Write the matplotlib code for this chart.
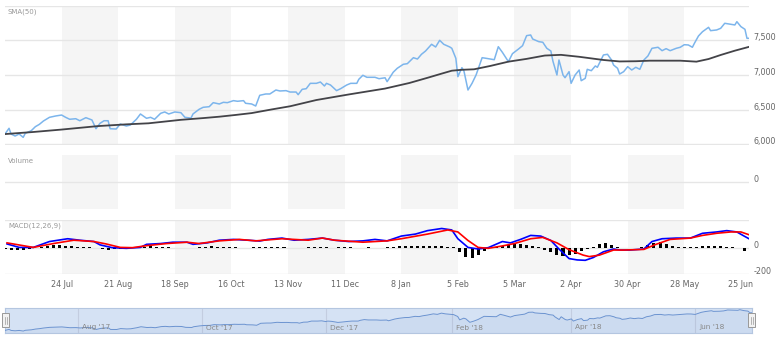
import matplotlib
matplotlib.use('Agg')
import matplotlib.pyplot as plt
import matplotlib.transforms as mtransforms
from matplotlib.patches import Rectangle
import pandas as pd

start = pd.Timestamp('2017-06-26')

# price, day offsets from start
price_days = [0, 2, 3, 5, 7, 9, 10, 13, 15, 17, 19, 22, 25, 28, 30, 32, 35, 37, 40, 43,
              45, 47, 49, 51, 52, 55, 57, 60, 62, 65, 67, 70, 72, 74, 77, 79, 81, 84, 87, 89,
              92, 93, 96, 98, 101, 103, 106, 108, 110, 113, 115, 118, 119, 122, 124, 126, 129, 131, 134, 136,
              139, 141, 144, 145, 147, 149, 151, 154, 156, 158, 159, 161, 164, 166, 169, 171, 174, 175, 177, 179,
              183, 185, 188, 189, 192, 194, 197, 199, 202, 204, 206, 208, 211, 213, 215, 217, 220, 221, 223, 224,
              226, 227, 229, 231, 233, 236, 238, 242, 244, 246, 249, 251, 254, 256, 258, 260, 261, 264, 266, 268,
              270, 271, 273, 274, 276, 277, 279, 280, 282, 284, 285, 287, 288, 290, 292, 293, 296, 298, 300, 301,
              303, 304, 306, 308, 310, 312, 314, 316, 318, 320, 323, 325, 327, 329, 332, 334, 336, 338, 340, 341,
              343, 345, 348, 349, 352, 354, 356, 358, 361, 362, 364, 366, 367, 368]
price = [6151, 6233, 6151, 6122, 6151, 6103, 6160, 6199, 6256, 6290, 6338, 6391, 6410, 6424, 6391, 6363, 6371, 6342, 6386, 6353,
         6227, 6305, 6342, 6342, 6227, 6223, 6295, 6266, 6280, 6363, 6439, 6377, 6391, 6363, 6449, 6468, 6439, 6468, 6458, 6391,
         6380, 6440, 6506, 6535, 6544, 6602, 6583, 6607, 6602, 6631, 6622, 6631, 6593, 6583, 6554, 6708, 6727, 6727, 6784, 6770,
         6775, 6755, 6755, 6717, 6794, 6803, 6880, 6880, 6899, 6842, 6880, 6856, 6775, 6803, 6856, 6880, 6880, 6938, 6996, 6967,
         6967, 6947, 6960, 6904, 7039, 7096, 7154, 7163, 7249, 7230, 7298, 7345, 7442, 7403, 7499, 7442, 7403, 7384, 7240, 6976,
         7105, 7058, 6784, 6880, 7000, 7249, 7240, 7220, 7407, 7327, 7192, 7307, 7374, 7422, 7566, 7576, 7518, 7480, 7471, 7384,
         7345, 7201, 7000, 7216, 7000, 6961, 7048, 6880, 7000, 7072, 6918, 6952, 7082, 7062, 7130, 7111, 7288, 7298, 7216, 7144,
         7096, 7014, 7048, 7120, 7072, 7111, 7082, 7216, 7274, 7384, 7399, 7350, 7379, 7350, 7384, 7399, 7436, 7432, 7399, 7456,
         7561, 7623, 7686, 7638, 7648, 7672, 7744, 7734, 7720, 7767, 7696, 7657, 7528, 7528]

sma_days = [0, 14, 28, 46, 60, 71, 87, 98, 106, 114, 122, 132, 141, 154, 170, 188, 200, 209, 216, 221,
            226, 232, 240, 249, 258, 267, 275, 284, 296, 304, 312, 319, 334, 342, 348, 354, 361, 368]
sma = [6150, 6180, 6215, 6265, 6290, 6305, 6355, 6380, 6400, 6425, 6452, 6505, 6550, 6640, 6720, 6805, 6885, 6960, 7020, 7062,
       7075, 7082, 7130, 7192, 7232, 7280, 7290, 7262, 7216, 7195, 7198, 7206, 7206, 7192, 7230, 7288, 7350, 7405]

macd_days = [1, 7, 14, 22, 31, 37, 44, 47, 53, 60, 67, 70, 77, 83, 90, 93, 100, 106, 113, 120,
             126, 130, 137, 143, 150, 157, 163, 170, 177, 183, 189, 196, 203, 209, 216, 221, 224, 229, 234, 239,
             246, 250, 255, 260, 265, 270, 274, 279, 283, 287, 291, 296, 301, 304, 309, 316, 320, 325, 332, 339,
             345, 352, 357, 362, 365, 368]
macd = [28, 2, 2, 46, 67, 56, 46, 21, 0, -5, 2, 25, 31, 41, 41, 25, 36, 56, 62, 56,
        50, 62, 72, 56, 62, 72, 56, 46, 51, 62, 51, 87, 102, 128, 144, 133, 67, 2, -10, 0,
        46, 36, 62, 92, 87, 54, -10, -82, -92, -95, -74, -31, -10, -18, -18, -10, 46, 67, 72, 72,
        108, 118, 128, 118, 92, 67]

signal_days = [1, 14, 24, 34, 44, 50, 57, 63, 70, 80, 90, 96, 106, 116, 124, 137, 150, 157, 163, 177,
               189, 196, 209, 219, 224, 229, 234, 239, 246, 252, 260, 266, 273, 279, 286, 289, 294, 301, 306, 316,
               322, 329, 339, 345, 352, 359, 364, 368]
signal = [36, 2, 31, 56, 46, 28, 2, 0, 15, 31, 41, 31, 51, 62, 51, 67, 56, 72, 56, 41,
          51, 67, 102, 133, 118, 54, 2, -5, 13, 31, 67, 77, 36, -15, -56, -67, -56, -18, -18, -13,
          25, 62, 72, 92, 108, 118, 118, 97]

hist_days = list(range(0, 367, 3))
hist = [-10, -14, -18, -16, -10, -3, 5, 12, 18, 20, 16, 12, 8, 4, 2, -4, -10, -14, -12, -8,
        -3, 2, 4, 8, 9, 8, 5, 3, -2, -4, -5, -3, 4, 8, 10, 8, 5, 3, 2, -2,
        -3, 3, 5, 4, 2, 3, 4, -3, -6, -5, 2, 5, 6, 3, -2, 2, 4, 3, 1, -2,
        2, 1, -1, 2, 6, 10, 12, 14, 15, 16, 16, 14, 12, 8, 2, -30, -70, -80, -55, -25,
        -5, 8, 16, 20, 26, 28, 22, 14, 4, -15, -35, -52, -60, -58, -45, -28, -12, 8, 25, 36,
        20, 2, -2, -3, -2, 3, 20, 36, 40, 30, 15, 6, 4, 3, 6, 12, 14, 12, 10, 6,
        2, -4, -28]

x_labels = ['24 Jul', '21 Aug', '18 Sep', '16 Oct', '13 Nov', '11 Dec', '8 Jan',
            '5 Feb', '5 Mar', '2 Apr', '30 Apr', '28 May', '25 Jun']
nav_labels = ["Aug '17", "Oct '17", "Dec '17", "Feb '18", "Apr '18", "Jun '18"]


def to_dates(days):
    return start + pd.to_timedelta(days, unit='D')


p_dates = to_dates(price_days)
tick_dates = pd.date_range('2017-07-24', periods=len(x_labels), freq='28D')
nav_ticks = pd.date_range('2017-08-01', periods=len(nav_labels), freq='2MS')

grid_c = '#e6e6e6'
band_c = '#f5f5f5'
text_c = '#666666'

fig = plt.figure(figsize=(7.77, 3.42), dpi=100)
W, H = 777.0, 342.0


def panel(top, bottom):
    return fig.add_axes([5 / W, 1 - bottom / H, 744 / W, (bottom - top) / H])


ax_main = panel(5.5, 144.5)
ax_vol = panel(155, 209)
ax_macd = panel(219.7, 274.3)

up = mtransforms.ScaledTranslation(0, 3.5 / 100, fig.dpi_scale_trans)

for ax in (ax_main, ax_vol, ax_macd):
    ax.set_xlim(p_dates[0], p_dates[-1])
    for i in range(0, len(tick_dates) - 1, 2):
        ax.axvspan(tick_dates[i], tick_dates[i + 1], color=band_c, lw=0, zorder=0)
    for s in ax.spines.values():
        s.set_visible(False)
    ax.set_xticks([])
    ax.yaxis.tick_right()
    ax.tick_params(axis='y', length=0, pad=3, labelsize=5.8, labelcolor=text_c)
    ax.grid(axis='y', color=grid_c, lw=1)
    ax.set_axisbelow(True)

# main panel
ax_main.plot(p_dates, price, color='#7cb5ec', lw=1.1, zorder=3)
ax_main.plot(to_dates(sma_days), sma, color='#434348', lw=1.3, zorder=4)
ax_main.set_ylim(6000, 8000)
ax_main.set_yticks([6000, 6500, 7000, 7500, 8000])
ax_main.set_yticklabels(['6,000', '6,500', '7,000', '7,500', ''])
ax_main.text(0.004, 0.975, 'SMA(50)', transform=ax_main.transAxes, fontsize=5,
             color='#999999', va='top', ha='left')

# volume panel (empty)
ax_vol.set_ylim(-1, 1)
ax_vol.set_yticks([0])
ax_vol.set_yticklabels(['0'])
ax_vol.text(0.004, 0.95, 'Volume', transform=ax_vol.transAxes, fontsize=5,
            color='#999999', va='top', ha='left')

# macd panel
ax_macd.bar(to_dates(hist_days), hist, width=1.5, color='black', zorder=2)
ax_macd.plot(to_dates(macd_days), macd, color='#0000ff', lw=1.2, zorder=3)
ax_macd.plot(to_dates(signal_days), signal, color='#ff0000', lw=1.2, zorder=4)
ax_macd.set_ylim(-200, 210)
ax_macd.set_yticks([-200, 0, 210])
ax_macd.set_yticklabels(['-200', '0', ''])
ax_macd.text(0.004, 0.95, 'MACD(12,26,9)', transform=ax_macd.transAxes, fontsize=5,
             color='#999999', va='top', ha='left')
ax_macd.set_xticks(tick_dates)
ax_macd.set_xticklabels(x_labels)
ax_macd.tick_params(axis='x', length=0, pad=4, labelsize=5.8, labelcolor=text_c)

for ax in (ax_main, ax_vol, ax_macd):
    for lab in ax.get_yticklabels():
        lab.set_transform(lab.get_transform() + up)

# navigator
ax_nav = fig.add_axes([5 / W, 1 - 333 / H, 747 / W, 25 / H])
ax_nav.set_facecolor('#d5e2f4')
ax_nav.plot(p_dates, price, color='#6b93d0', lw=0.7, zorder=3)
ax_nav.fill_between(p_dates, price, 5900, color='#335cad', alpha=0.05, lw=0, zorder=2)
ax_nav.set_xlim(p_dates[0], p_dates[-1])
ax_nav.set_ylim(5950, 7900)
ax_nav.set_xticks([])
ax_nav.set_yticks([])
for s in ax_nav.spines.values():
    s.set_color('#b4c6e0')
    s.set_linewidth(0.8)
for d, lab in zip(nav_ticks, nav_labels):
    ax_nav.axvline(d, color='#c3cde0', lw=0.8, zorder=1)
    ax_nav.text(d + pd.Timedelta(days=2), 0.1, lab, transform=ax_nav.get_xaxis_transform(),
                fontsize=5.3, color='#888888', va='bottom', ha='left', zorder=4)

# navigator handles
for hx in (2, 748):
    fig.patches.append(Rectangle((hx / W, 1 - 327 / H), 7 / W, 14 / H, transform=fig.transFigure,
                                 facecolor='#f2f2f2', edgecolor='#999999', lw=0.7))
    for gx in (hx + 2.5, hx + 4.5):
        fig.lines.append(plt.Line2D([gx / W, gx / W], [1 - 323.5 / H, 1 - 316.5 / H],
                                    transform=fig.transFigure, color='#999999', lw=0.5))

fig.savefig('out.png', dpi=100)
